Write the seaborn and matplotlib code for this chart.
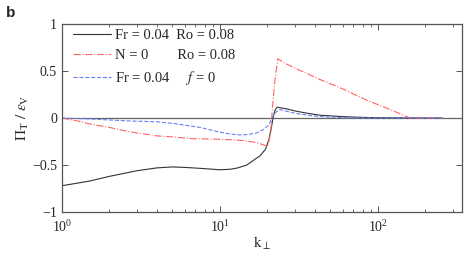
import numpy as np
import pandas as pd
import seaborn as sns
import matplotlib.pyplot as plt
from matplotlib.ticker import LogLocator, NullFormatter

# black solid: Fr = 0.04, Ro = 0.08
k_fr_ro = [1, 1.5, 2, 3, 4, 5, 6, 7.5, 10, 11.6, 13, 14.8, 16, 18, 19.5, 20.5, 21.2, 21.7,
           22.3, 23, 24, 26, 30, 36, 43, 60, 80, 100, 150, 256]
pi_fr_ro = [-0.72, -0.67, -0.62, -0.56, -0.53, -0.52, -0.525, -0.535, -0.55, -0.545, -0.53,
            -0.50, -0.46, -0.40, -0.33, -0.22, -0.10, 0.0, 0.08, 0.115, 0.11, 0.10, 0.075,
            0.05, 0.03, 0.015, 0.007, 0.003, 0.001, 0.0]

# red dash-dot: N = 0, Ro = 0.08
k_n0_ro = [1, 1.25, 1.57, 2, 2.58, 3, 4, 5, 6.7, 10, 11.6, 14, 17, 20.1, 21.0, 21.5, 22.3,
           23.3, 26, 30, 43, 60, 85, 120, 160, 256]
pi_n0_ro = [0.0, -0.03, -0.07, -0.10, -0.14, -0.16, -0.19, -0.20, -0.22, -0.225, -0.23,
            -0.24, -0.26, -0.30, -0.15, 0.10, 0.40, 0.63, 0.58, 0.53, 0.41, 0.31, 0.19,
            0.09, 0.0, 0.0]

# blue dashed: Fr = 0.04, f = 0
k_fr_f0 = [1, 1.5, 2.58, 4, 5.2, 7.5, 10, 11.6, 13.5, 15, 17, 19, 20.5, 21.3, 22.5, 24, 26,
           30, 36, 43, 60, 100, 256]
pi_fr_f0 = [0.0, -0.01, -0.03, -0.04, -0.06, -0.10, -0.15, -0.17, -0.18, -0.175, -0.16,
            -0.12, -0.07, 0.0, 0.06, 0.09, 0.075, 0.05, 0.03, 0.015, 0.004, 0.0, 0.0]

labels = ['Fr = 0.04  Ro = 0.08', 'N = 0        Ro = 0.08', 'Fr = 0.04     $f$ = 0']

sns.set_style('ticks')
plt.rcParams['font.family'] = ['Liberation Serif', 'DejaVu Serif']
plt.rcParams['mathtext.fontset'] = 'stix'
plt.rcParams['font.size'] = 10

fig = plt.figure(figsize=(4.69, 2.58), dpi=100)
ax = fig.add_axes([0.132, 0.178, 0.853, 0.729])

ax.axhline(0, color='#666666', lw=0.9, zorder=1)
sns.lineplot(x=k_fr_ro, y=pi_fr_ro, ax=ax, color='#333333', lw=0.8, label=labels[0])
sns.lineplot(x=k_n0_ro, y=pi_n0_ro, ax=ax, color='#ff6464', lw=0.8, ls='-.', label=labels[1])
sns.lineplot(x=k_fr_f0, y=pi_fr_f0, ax=ax, color='#6680f0', lw=0.8, ls='--', label=labels[2])

ax.set_xscale('log')
ax.set_xlim(1, 341)
ax.set_ylim(-1, 1)
ax.set_yticks([-1, -0.5, 0, 0.5, 1])
ax.set_yticklabels(['\u22121', '\u22120.5', '0', '0.5', '1'])
ax.xaxis.set_major_locator(LogLocator(base=10, numticks=10))
ax.xaxis.set_minor_locator(LogLocator(base=10, subs=np.arange(2, 10), numticks=10))
ax.xaxis.set_minor_formatter(NullFormatter())
ax.tick_params(which='both', direction='in', top=True, right=True, color='#555555',
               labelsize=10)
ax.tick_params(which='major', length=4, width=0.7)
ax.tick_params(which='minor', length=2.5, width=0.6)
ax.tick_params(axis='x', which='major', pad=5)
for s in ax.spines.values():
    s.set_color('#555555')
    s.set_linewidth(0.9)

ax.set_xlabel(r'$\mathrm{k}_\perp$', fontsize=11, labelpad=0)
ax.set_ylabel(r'$\Pi_\mathrm{T}\ /\ \epsilon_\mathrm{V}$', fontsize=11, labelpad=1)

ax.legend(loc='upper left', bbox_to_anchor=(0.013, 1.004), frameon=False, fontsize=10.5,
          handlelength=2.6, labelspacing=0.45, borderaxespad=0, handletextpad=0.3)

fig.text(0.012, 0.975, 'b', fontsize=11, fontweight='bold', va='top',
         family='Liberation Sans')

fig.savefig('out.png', dpi=100)
